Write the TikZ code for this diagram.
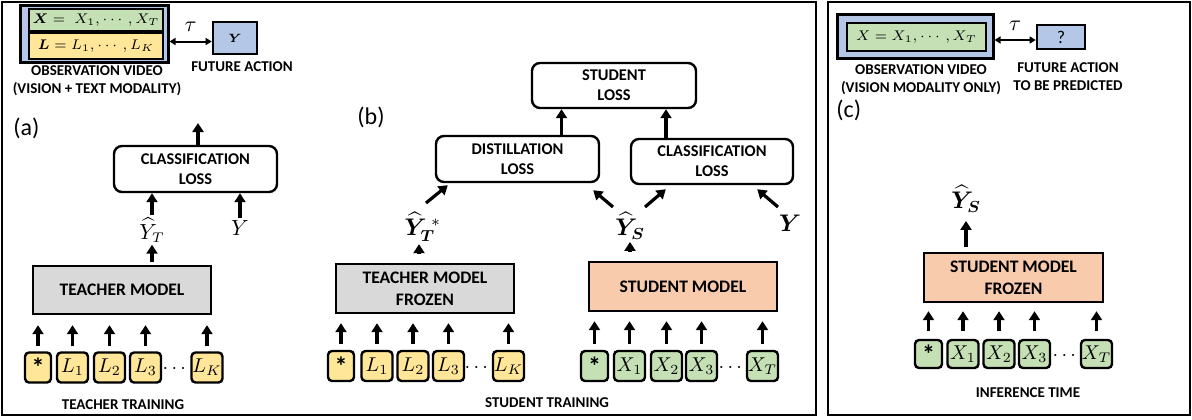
\documentclass[tikz,border=0pt]{standalone}
\usepackage{fontspec}
\setmainfont{Carlito}
\usepackage{amsmath,bm}
\usetikzlibrary{arrows.meta,positioning}

\definecolor{obsblue}{HTML}{B4C7E7}
\definecolor{tokgreen}{HTML}{C5E0B4}
\definecolor{tokyellow}{HTML}{FFE699}
\definecolor{modelgray}{HTML}{D9D9D9}
\definecolor{modelpeach}{HTML}{F8CBAD}

\tikzset{
  panel/.style={draw,line width=1.3pt},
  lossbox/.style={draw,line width=1.2pt,rounded corners=4pt,fill=white,align=center,
    inner sep=0pt,font=\fontsize{8.2}{10}\selectfont\bfseries},
  modelbox/.style={draw,line width=1.2pt,align=center,inner sep=0pt,
    font=\fontsize{8.8}{11}\selectfont\bfseries},
  tokL/.style={draw,line width=1.2pt,rounded corners=2pt,fill=tokyellow,inner sep=0pt,
    minimum width=15.5pt,minimum height=15pt,font=\fontsize{10}{10}\selectfont},
  tokX/.style={tokL,fill=tokgreen},
  startok/.style={font=\fontsize{13}{13}\selectfont\bfseries},
  obsbox/.style={draw,line width=1.5pt,fill=obsblue,inner sep=0pt},
  seqbox/.style={draw,line width=1.3pt,inner sep=0pt,minimum width=67pt,
    font=\fontsize{7.5}{9}\selectfont},
  lbl/.style={align=center,inner sep=0pt,font=\fontsize{7.5}{9}\selectfont\bfseries},
  tag/.style={inner sep=0pt,font=\fontsize{12}{12}\selectfont},
  mathlbl/.style={inner sep=1pt,font=\fontsize{10.5}{11}\selectfont},
  boldlbl/.style={inner sep=1pt,font=\fontsize{12}{12}\selectfont},
  arr/.style={line width=1.6pt,-{Triangle[length=4.5pt,width=5.5pt]}},
  dblarr/.style={line width=1pt,{Triangle[length=3pt,width=3.5pt]}-{Triangle[length=3pt,width=3.5pt]}},
}

\begin{document}
\begin{tikzpicture}[x=0.5pt,y=-0.5pt]
  \useasboundingbox (0,0) rectangle (1192,419);

  % panels
  \draw[panel] (2,2) rectangle (816,415);
  \draw[panel] (828,2) rectangle (1190,415);

  % (a) teacher training
  \node[obsbox,minimum width=74pt,minimum height=28.5pt] (obsA) at (94,33.5) {};
  \node[seqbox,fill=tokgreen,minimum height=11pt] (xA) at (96,20) {$\bm{X} = \;X_1, \cdots, X_T$};
  \node[seqbox,fill=tokyellow,minimum height=13pt] (lA) at (96,46) {$\bm{L} = L_1, \cdots, L_K$};
  \node[obsbox,line width=1.3pt,minimum width=22pt,minimum height=16pt,
    font=\fontsize{6}{6}\selectfont] (yA) at (235,38) {$\bm{Y}$};
  \draw[dblarr] ([yshift=-4pt]obsA.east) -- ([yshift=-4pt]obsA.east -| yA.west)
    node[midway,above=1pt,font=\fontsize{11}{11}\selectfont]{$\tau$};
  \node[lbl] (obsLblA) at (97,81) {OBSERVATION VIDEO\\(VISION + TEXT MODALITY)};
  \node[lbl] (futLblA) at (242,67) {FUTURE ACTION};
  \node[tag,anchor=west] (tagA) at (13,128) {(a)};

  \node[lossbox,minimum width=81.5pt,minimum height=23pt] (clsA) at (195.5,169) {CLASSIFICATION\\LOSS};
  \coordinate (outA) at (198,123);
  \draw[arr] (clsA.north -| outA) -- (outA);
  \node[mathlbl] (hatYT) at (152,230) {$\widehat{Y}_T$};
  \node[mathlbl] (yLblA) at (240,228) {$Y$};
  \draw[arr] (hatYT.north) -- (hatYT.north |- clsA.south);
  \draw[arr] (yLblA.north) -- (yLblA.north |- clsA.south);

  \node[modelbox,fill=modelgray,minimum width=89pt,minimum height=24pt] (tA) at (122,290) {TEACHER MODEL};
  \draw[arr,shorten <=1.5pt] (hatYT.south |- tA.north) -- (hatYT.south);

  \node[tokL,startok,minimum width=13pt] (ta0) at (38,367.5) {*};
  \node[tokL] (ta1) at (72.5,367.5) {$L_1$};
  \node[tokL] (ta2) at (109.5,367.5) {$L_2$};
  \node[tokL] (ta3) at (145.5,367.5) {$L_3$};
  \node[inner sep=0pt,font=\fontsize{10}{10}\selectfont] (dotsA) at (176,369) {$\cdots$};
  \node[tokL] (taK) at (207,367.5) {$L_K$};
  \foreach \t in {ta0,ta1,ta2,ta3,taK}
    \draw[arr,shorten <=2.5pt,shorten >=5pt] (\t.north) -- (\t.north |- tA.south);
  \node[lbl] (capA) at (123,405) {TEACHER TRAINING};

  % (b) student training
  \node[tag,anchor=west] (tagB) at (357,117) {(b)};
  \node[lossbox,minimum width=82pt,minimum height=22.5pt] (stuLoss) at (614,85.5) {STUDENT\\LOSS};
  \node[lossbox,minimum width=81.5pt,minimum height=23pt] (distLoss) at (517.5,159) {DISTILLATION\\LOSS};
  \node[lossbox,minimum width=81pt,minimum height=22.5pt] (clsB) at (712,161.5) {CLASSIFICATION\\LOSS};
  \draw[arr] ([xshift=22pt]distLoss.north) -- ([xshift=22pt]distLoss.north |- stuLoss.south);
  \draw[arr] ([xshift=-23pt]clsB.north) -- ([xshift=-23pt]clsB.north |- stuLoss.south);

  \node[boldlbl,anchor=west] (hatYTb) at (402,227) {$\bm{\widehat{Y}_T}^{\;*}$};
  \node[boldlbl] (hatYSb) at (630,226) {$\bm{\widehat{Y}_S}$};
  \node[boldlbl] (yLblB) at (790,223) {$\bm{Y}$};
  \coordinate (inTb) at ([xshift=8.5pt]hatYTb.south west);
  \draw[arr] ([shift={(24,-24)}]hatYTb.west) -- ([shift={(13,2)}]distLoss.south west);
  \draw[arr] ([shift={(-17,-19)}]hatYSb.center) -- ([shift={(-7,7)}]distLoss.south east);
  \draw[arr] ([shift={(15,-19)}]hatYSb.center) -- ([shift={(36,4)}]clsB.south west);
  \draw[arr] ([shift={(-12,-16)}]yLblB.center) -- ([shift={(-37,4)}]clsB.south east);

  \node[modelbox,fill=modelgray,minimum width=89pt,minimum height=24.5pt] (tfB) at (425,288.5) {TEACHER MODEL\\FROZEN};
  \node[modelbox,fill=modelpeach,minimum width=94pt,minimum height=24.5pt] (sB) at (683,286.5) {STUDENT MODEL};
  \draw[arr,shorten <=4.5pt] (tfB.north -| inTb) -- (inTb);
  \draw[arr,shorten <=4.5pt] (sB.north -| hatYSb.south) -- (hatYSb.south);

  \node[tokL,startok,minimum width=13pt] (tb0) at (341,366) {*};
  \node[tokL] (tb1) at (377,366) {$L_1$};
  \node[tokL] (tb2) at (413,366) {$L_2$};
  \node[tokL] (tb3) at (448.5,366) {$L_3$};
  \node[inner sep=0pt,font=\fontsize{10}{10}\selectfont] (dotsB) at (478,368) {$\cdots$};
  \node[tokL] (tbK) at (508.5,366) {$L_K$};
  \foreach \t in {tb0,tb1,tb2,tb3,tbK}
    \draw[arr,shorten <=3pt,shorten >=4.5pt] (\t.north) -- (\t.north |- tfB.south);

  \node[tokX,startok,minimum width=13.5pt] (sb0) at (594.5,366) {*};
  \node[tokX] (sb1) at (629.5,366) {$X_1$};
  \node[tokX] (sb2) at (666.5,366) {$X_2$};
  \node[tokX] (sb3) at (701.5,366) {$X_3$};
  \node[inner sep=0pt,font=\fontsize{10}{10}\selectfont] (dotsS) at (732,368) {$\cdots$};
  \node[tokX] (sbT) at (762.5,366) {$X_T$};
  \foreach \t in {sb0,sb1,sb2,sb3,sbT}
    \draw[arr,shorten <=3pt,shorten >=4.5pt] (\t.north) -- (\t.north |- sB.south);
  \node[lbl] (capB) at (547,403) {STUDENT TRAINING};

  % (c) inference time
  \node[obsbox,minimum width=78pt,minimum height=22pt] (obsC) at (915,36) {};
  \node[seqbox,fill=tokgreen,minimum width=69.5pt,minimum height=14pt,
    font=\fontsize{7}{9}\selectfont] (xC) at (916.5,37) {$X = X_1, \cdots, X_T$};
  \node[obsbox,line width=1.3pt,minimum width=24pt,minimum height=12pt,
    font=\fontsize{9}{9}\selectfont] (qC) at (1061,37) {?};
  \draw[dblarr] ([yshift=-2pt]obsC.east) -- ([yshift=-2pt]obsC.east -| qC.west)
    node[midway,above=1pt,font=\fontsize{11}{11}\selectfont]{$\tau$};
  \node[lbl] (obsLblC) at (921,79.5) {OBSERVATION VIDEO\\(VISION MODALITY ONLY)};
  \node[lbl] (futLblC) at (1068,77) {FUTURE ACTION\\TO BE PREDICTED};
  \node[tag,anchor=west] (tagC) at (836,110) {(c)};

  \node[boldlbl] (hatYSc) at (966,199) {$\bm{\widehat{Y}_S}$};
  \node[modelbox,fill=modelpeach,minimum width=89.5pt,minimum height=24.5pt] (sC) at (1013.5,277.5) {STUDENT MODEL\\FROZEN};
  \draw[arr,shorten <=2.5pt,shorten >=3pt] (sC.north -| hatYSc.south) -- (hatYSc.south);

  \node[tokX,startok,minimum width=13.5pt,minimum height=14pt] (sc0) at (928.5,354) {*};
  \node[tokX,minimum height=14pt] (sc1) at (963,354) {$X_1$};
  \node[tokX,minimum height=14pt] (sc2) at (999,354) {$X_2$};
  \node[tokX,minimum height=14pt] (sc3) at (1034.5,354) {$X_3$};
  \node[inner sep=0pt,font=\fontsize{10}{10}\selectfont] (dotsC) at (1066,356) {$\cdots$};
  \node[tokX,minimum height=14pt] (scT) at (1096.5,354) {$X_T$};
  \foreach \t in {sc0,sc1,sc2,sc3,scT}
    \draw[arr,shorten <=4pt,shorten >=4pt] (\t.north) -- (\t.north |- sC.south);
  \node[lbl] (capC) at (1028,393) {INFERENCE TIME};
\end{tikzpicture}
\end{document}
